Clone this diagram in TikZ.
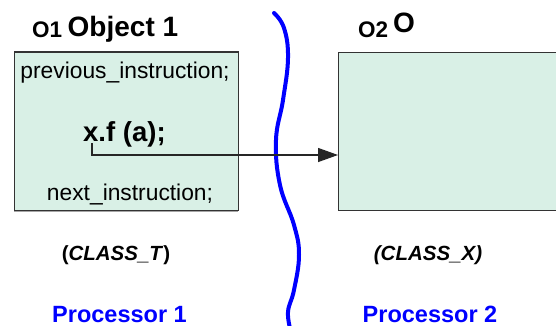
\documentclass[tikz,border=0pt]{standalone}
\usepackage{fontspec}
\setmainfont{Liberation Sans}
\usetikzlibrary{arrows.meta}
\definecolor{boxfill}{RGB}{217,240,230}
\definecolor{procblue}{RGB}{0,0,255}
\tikzset{
  objbox/.style={draw=black!80, line width=1.2pt, fill=boxfill},
  txt/.style={inner sep=0pt, font=\fontsize{22.8}{25}\selectfont},
  boldtxt/.style={inner sep=0pt, font=\bfseries\fontsize{27.5}{30}\selectfont},
  title/.style={inner sep=0pt, font=\bfseries\fontsize{28}{32}\selectfont},
  small/.style={inner sep=0pt, font=\bfseries\fontsize{22.5}{24}\selectfont},
  classtxt/.style={inner sep=0pt, font=\bfseries\fontsize{20.5}{24}\selectfont},
  proc/.style={inner sep=0pt, text=procblue, font=\bfseries\fontsize{23.5}{28}\selectfont},
  wave/.style={draw=procblue, line width=4pt, line cap=round},
  call/.style={draw=black!85, line width=1.3pt, -{Triangle[length=20pt,width=14pt]}}
}
\begin{document}
\begin{tikzpicture}[x=1pt,y=-1pt]
\useasboundingbox (0,0) rectangle (556,326);
% boxes
\draw[gray!70, line width=2.5pt] (14,210.5) -- (238,210.5);
\draw[gray!70, line width=2.5pt] (338,210) -- (570,210);
\node[objbox, minimum width=224pt, minimum height=158.5pt, anchor=north west, inner sep=0pt] (box1) at (14,51.5) {};
\node[objbox, minimum width=232pt, minimum height=158pt, anchor=north west, inner sep=0pt] (box2) at (338,51.7) {};
% titles
\node[small, anchor=base west] (o1) at (32,37.5) {O1};
\node[title, anchor=base west] (obj1) at (67.5,36.5) {Object 1};
\node[small, anchor=base west] (o2) at (358,37.5) {O2};
\node[title, anchor=base west] (obj2) at (393,33) {O};
% texts in box 1
\node[txt, anchor=base] (prev) at (125,79) {previous\_instruction;};
\node[boldtxt, anchor=base west] (xf) at (83,141) {x.f (a);};
\node[txt, anchor=base] (next) at (130,200) {next\_instruction;};
% class labels
\node[classtxt, anchor=base] (ct) at (116,260) {(\textit{CLASS\_T})};
\node[classtxt, anchor=base] (cx) at (428,260) {\textit{(CLASS\_X)}};
% processors
\node[proc, anchor=base] (p1) at (119.5,322) {Processor 1};
\node[proc, anchor=base] (p2) at (430,322) {Processor 2};
% separator wave
\draw[wave] plot[smooth, tension=0.7] coordinates {(274,13) (284,28) (288,58) (283,100) (276,140) (280,185) (294,225) (299,255) (294,290) (288,312) (291,332)};
% call arrow
\coordinate (s) at (92,143);
\path (box2.north west) ++(0,103.3) coordinate (t);
\draw[call] (s) |- (t);
\end{tikzpicture}
\end{document}
